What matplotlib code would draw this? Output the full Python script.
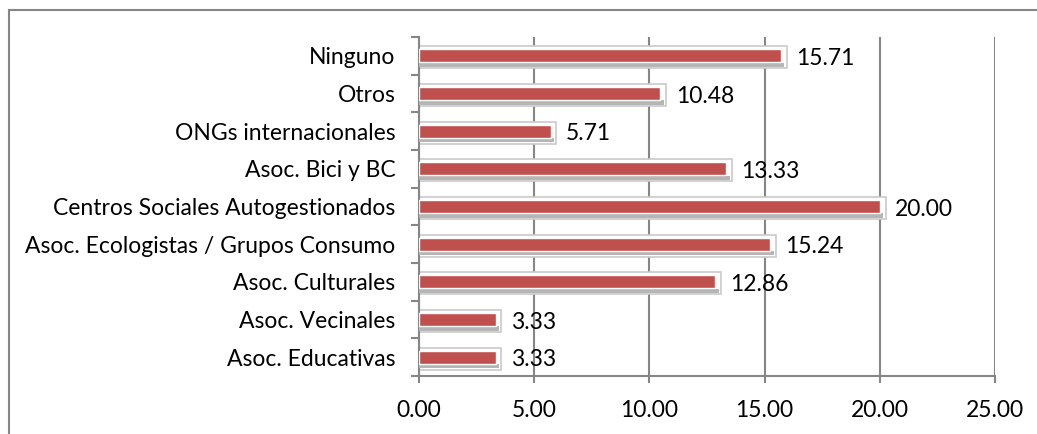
import numpy as np
import matplotlib.pyplot as plt
from matplotlib.lines import Line2D

plt.rcParams['font.family'] = ['Lato', 'DejaVu Sans']

categories = ["Ninguno", "Otros", "ONGs internacionales", "Asoc. Bici y BC",
              "Centros Sociales Autogestionados",
              "Asoc. Ecologistas / Grupos Consumo", "Asoc. Culturales",
              "Asoc. Vecinales", "Asoc. Educativas"]
values = [15.71, 10.48, 5.71, 13.33, 20.00, 15.24, 12.86, 3.33, 3.33]
xticks = [0, 5, 10, 15, 20, 25]

GRID = "#868686"
RED = "#c0504d"
FS = 16.5

fig = plt.figure(figsize=(10.37, 4.34), dpi=100)
ax = fig.add_axes([0.404, 0.1336, 0.5555, 0.7811])

# bottom category first so the list reads top-down
ys = np.arange(len(categories))[::-1]

for y, v in zip(ys, values):
    # rounded frame behind the bar
    ax.barh(y - 0.04, v + 0.25, height=0.58, left=0, color="white",
            edgecolor="#c9c9c9", linewidth=1.2, zorder=2)
    # shadow strip under the bar
    ax.barh(y - 0.24, v + 0.15, height=0.11, left=0, color="#b5b5b5",
            edgecolor="none", zorder=3)
    ax.barh(y, v, height=0.34, color=RED, edgecolor="white",
            linewidth=1.0, zorder=4)
    ax.annotate(f"{v:.2f}", xy=(v, y), xytext=(11, -2),
                textcoords="offset points", ha="left", va="center",
                fontsize=FS, color="black", zorder=5)

ax.set_xlim(0, 25)
ax.set_ylim(-0.5, len(categories) - 0.5)
ax.set_xticks(xticks)
ax.set_xticklabels([f"{t:.2f}" for t in xticks], fontsize=FS)
ax.grid(axis="x", color=GRID, linewidth=1.5, zorder=1)
ax.set_axisbelow(True)

# boundary ticks on the category axis, labels at the centres
ax.set_yticks(np.arange(len(categories) + 1) - 0.5)
ax.set_yticklabels([])
ax.set_yticks(ys, minor=True)
ax.set_yticklabels(categories, minor=True, fontsize=FS)
ax.tick_params(axis="y", which="major", length=6, width=1.5, color=GRID)
ax.tick_params(axis="y", which="minor", length=0, pad=17)
ax.tick_params(axis="x", length=5, width=1.5, color=GRID, pad=12)

for s in ["top", "right"]:
    ax.spines[s].set_visible(False)
for s in ["left", "bottom"]:
    ax.spines[s].set_color(GRID)
    ax.spines[s].set_linewidth(1.5)

# outer chart frame
fig.add_artist(Line2D([9 / 1037, 1], [1 - 10 / 434] * 2, color=GRID, lw=1.5,
                      transform=fig.transFigure))
fig.add_artist(Line2D([9 / 1037] * 2, [0, 1 - 10 / 434], color=GRID, lw=1.5,
                      transform=fig.transFigure))

fig.savefig("out.png", dpi=100)
